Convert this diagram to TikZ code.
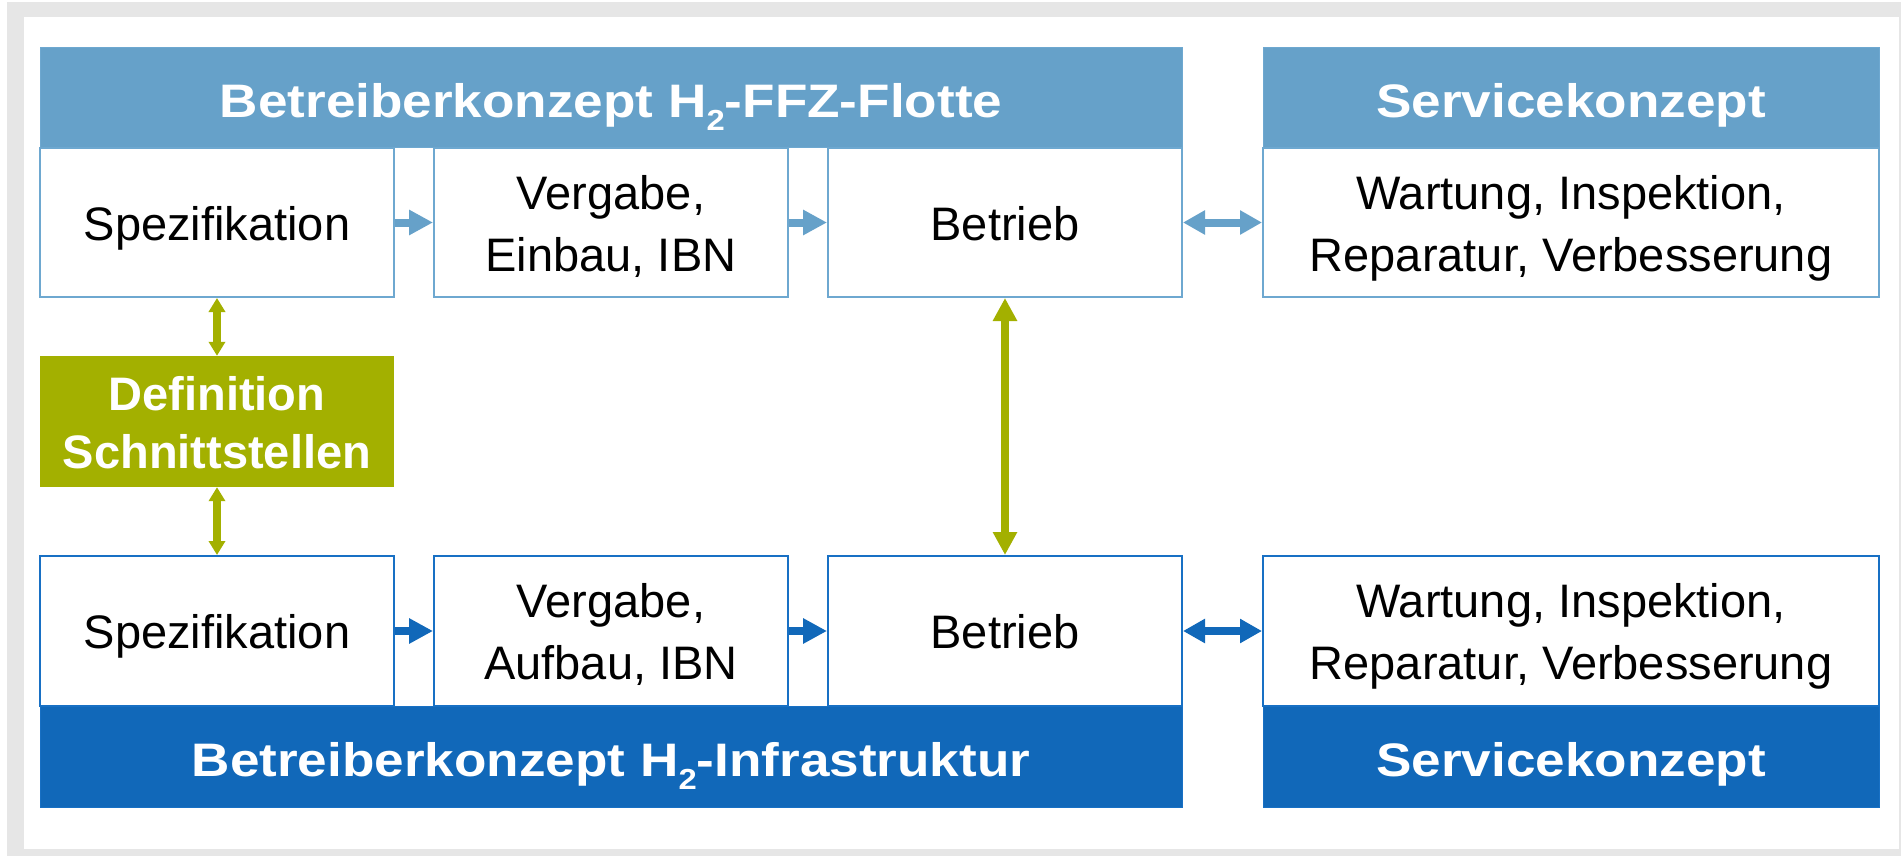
\documentclass[tikz,border=0pt]{standalone}
\usepackage{fontspec}
\usepackage{graphicx}
\setmainfont{Liberation Sans}
\usetikzlibrary{arrows.meta}
\definecolor{lblue}{RGB}{102,161,201}
\definecolor{lblueline}{RGB}{110,168,208}
\definecolor{dblue}{RGB}{17,104,185}
\definecolor{dblueline}{RGB}{24,112,196}
\definecolor{hgreen}{RGB}{163,176,0}
\definecolor{framegray}{RGB}{230,230,230}
\newcommand{\hsub}{\raisebox{-13pt}{\fontsize{29}{29}\selectfont 2}}
\newcommand{\twol}[2]{\begin{tabular}[t]{@{}c@{}}#1\\#2\end{tabular}}
\newcommand{\hdr}[1]{\scalebox{1.13}[1]{#1}}
\begin{document}
\begin{tikzpicture}[x=1pt,y=-1pt,
  boxtext/.style={font=\fontsize{47}{62}\selectfont, text=black, inner sep=0pt, text height=45pt, text depth=10pt},
  twoline/.style={text height=45pt, text depth=72pt},
  topbox/.style={boxtext, draw=lblueline, line width=2pt, fill=white, minimum width=354pt, minimum height=149pt},
  botbox/.style={boxtext, draw=dblueline, line width=2pt, fill=white, minimum width=354pt, minimum height=150pt},
  hdrtext/.style={font=\fontsize{47}{56}\selectfont\bfseries, text=white, inner sep=0pt, text height=50pt, text depth=10pt},
  tophdr/.style={hdrtext, fill=lblue, draw=lblueline, line width=1pt, minimum height=100pt},
  bothdr/.style={hdrtext, fill=dblue, draw=dblueline, line width=1pt, minimum height=101pt},
  bluearr/.style={line width=8pt, -{Triangle[length=24pt,width=24pt]}},
  bluedbl/.style={line width=8pt, {Triangle[length=22pt,width=23pt]}-{Triangle[length=22pt,width=23pt]}},
  greensmall/.style={draw=hgreen, line width=8pt, {Triangle[length=14pt,width=16pt]}-{Triangle[length=14pt,width=16pt]}},
  greenbig/.style={draw=hgreen, line width=8pt, {Triangle[length=23pt,width=23pt]}-{Triangle[length=23pt,width=23pt]}}
]
\useasboundingbox (0,0) rectangle (1901,856);
\fill[white] (0,0) rectangle (1901,856);
\fill[framegray] (7,2) rectangle (1901,856);
\fill[white] (24,17) rectangle (1899,849);

% top row
\node[tophdr, minimum width=1142pt] (hdrTop) at (611,98)
  {\hdr{Betreiberkonzept H\hsub-FFZ-Flotte}};
\node[tophdr, minimum width=616pt] (hdrSvcTop) at (1571,98)
  {\hdr{Servicekonzept}};
\node[topbox] (spez1) at (217,222.5) {Spezifikation};
\node[topbox, twoline] (verg1) at (611,222.5) {\twol{Vergabe,}{Einbau, IBN}};
\node[topbox] (betr1) at (1005,222.5) {Betrieb};
\node[topbox, twoline, minimum width=616pt] (svc1) at (1571,222.5) {\twol{Wartung, Inspektion,}{Reparatur, Verbesserung}};

% interface box
\node[hdrtext, font=\fontsize{47}{58}\selectfont\bfseries, text height=45pt, text depth=68pt,
      fill=hgreen, minimum width=354pt, minimum height=131pt] (defs) at (217,421.5)
  {\twol{Definition}{Schnittstellen}};

% bottom row
\node[botbox] (spez2) at (217,631) {Spezifikation};
\node[botbox, twoline] (verg2) at (611,631) {\twol{Vergabe,}{Aufbau, IBN}};
\node[botbox] (betr2) at (1005,631) {Betrieb};
\node[botbox, twoline, minimum width=616pt] (svc2) at (1571,631) {\twol{Wartung, Inspektion,}{Reparatur, Verbesserung}};
\node[bothdr, minimum width=1142pt] (hdrBot) at (611,756.5)
  {\hdr{Betreiberkonzept H\hsub-Infrastruktur}};
\node[bothdr, minimum width=616pt] (hdrSvcBot) at (1571,756.5)
  {\hdr{Servicekonzept}};

% connectors
\draw[bluearr, lblue] (spez1.east) -- (verg1.west);
\draw[bluearr, lblue] (verg1.east) -- (betr1.west);
\draw[bluedbl, lblue] (betr1.east) -- (svc1.west);
\draw[bluearr, dblue] (spez2.east) -- (verg2.west);
\draw[bluearr, dblue] (verg2.east) -- (betr2.west);
\draw[bluedbl, dblue] (betr2.east) -- (svc2.west);
\draw[greensmall] (spez1.south) -- (defs.north);
\draw[greensmall] (defs.south) -- (spez2.north);
\draw[greenbig] (betr1.south) -- (betr2.north);
\end{tikzpicture}
\end{document}
